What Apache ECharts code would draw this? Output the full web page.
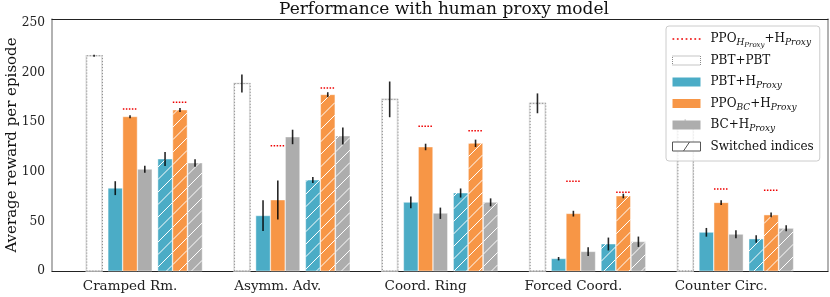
<!DOCTYPE html>
<html><head><meta charset="utf-8">
<script src="https://cdn.jsdelivr.net/npm/echarts@6/dist/echarts.min.js"></script>
<style>html,body{margin:0;padding:0;background:#fff}#c{width:830px;height:297px}</style>
</head><body><div id="c"></div>
<script>
const categories = ['Cramped Rm.', 'Asymm. Adv.', 'Coord. Ring', 'Forced Coord.', 'Counter Circ.'];
const yTicks = [0, 50, 100, 150, 200, 250];
const pbtPbt = [217, 189, 173, 169, 149];
const pbtPbtErr = [1, 9, 18, 10, 4];
const pbtH = [83.5, 55.7, 69.2, 12.4, 39];
const pbtHErr = [7, 15.5, 6, 1.7, 4.4];
const ppoBcH = [155.5, 71.6, 125, 57.8, 68.9];
const ppoBcHErr = [1.5, 19.7, 3.3, 2.9, 2.4];
const bcH = [102.5, 135.1, 58.2, 19.5, 37];
const bcHErr = [3.5, 7.3, 5.7, 4.5, 4];
const pbtHSw = [112.9, 91.7, 78.6, 27.2, 32.3];
const pbtHSwErr = [7, 3, 4.6, 6.5, 3.7];
const ppoBcHSw = [162.3, 177.7, 128.7, 75.6, 56.5];
const ppoBcHSwErr = [2, 2.5, 3.7, 2.3, 2.4];
const bcHSw = [108.9, 136.1, 69.2, 29.5, 43];
const bcHSwErr = [3.7, 8.5, 4, 5.2, 3];
const ppoHH = [163.3, 126.3, 145.9, 90.4, 82.7];
const ppoHHSw = [170, 184.5, 141.4, 79.3, 81.4];

const FONT = 'DejaVu Serif';
const TEAL = '#4BACC6', ORANGE = '#F79646', GRAY = '#ADADAD';
const BW = 0.097;

function barSeries(name, vals, errs, off, color, hatched) {
  return {
    type: 'custom', name: name, z: 2,
    data: vals.map((v, i) => [i, v, errs[i]]),
    encode: { x: 0, y: 1 },
    renderItem: function (params, api) {
      const i = api.value(0), v = api.value(1), e = api.value(2);
      const tl = api.coord([i + off - BW / 2, v]), br = api.coord([i + off + BW / 2, 0]);
      const x0 = tl[0], y0 = tl[1], x1 = br[0], y1 = br[1];
      const ch = [{ type: 'rect', shape: { x: x0, y: y0, width: x1 - x0, height: y1 - y0 },
        style: { fill: color, stroke: 'rgba(255,255,255,0.45)', lineWidth: 1 } }];
      if (hatched) {
        const s = 12.5;
        const kMin = Math.floor((x0 + y0) / s), kMax = Math.ceil((x1 + y1) / s);
        for (let k = kMin; k <= kMax; k++) {
          const c = k * s;
          const xa = Math.max(x0, c - y1), xb = Math.min(x1, c - y0);
          if (xb - xa > 0.5) {
            ch.push({ type: 'line', shape: { x1: xa, y1: c - xa, x2: xb, y2: c - xb },
              style: { stroke: '#ffffff', lineWidth: 1 } });
          }
        }
      }
      if (e > 0) {
        const a = api.coord([i + off, v + e]), b = api.coord([i + off, v - e]);
        ch.push({ type: 'line', shape: { x1: a[0], y1: a[1], x2: b[0], y2: b[1] },
          style: { stroke: 'rgba(0,0,0,0.85)', lineWidth: 1.6 } });
      }
      return { type: 'group', children: ch };
    }
  };
}

function pbtSeries(name, vals, errs, off) {
  const w = 0.106;
  return {
    type: 'custom', name: name, z: 2,
    data: vals.map((v, i) => [i, v, errs[i]]),
    encode: { x: 0, y: 1 },
    renderItem: function (params, api) {
      const i = api.value(0), v = api.value(1), e = api.value(2);
      const tl = api.coord([i + off - w / 2, v]), br = api.coord([i + off + w / 2, 0]);
      const x0 = tl[0], y0 = tl[1], x1 = br[0], y1 = br[1];
      const ch = [
        { type: 'rect', shape: { x: x0, y: y0, width: x1 - x0, height: y1 - y0 },
          style: { fill: '#fff', stroke: '#dcdcdc', lineWidth: 1.6 } },
        { type: 'rect', shape: { x: x0 + 0.5, y: y0, width: x1 - x0, height: y1 - y0 },
          style: { fill: 'none', stroke: '#8a8a8a', lineWidth: 1, lineDash: [1, 2] } }
      ];
      const a = api.coord([i + off, v + e]), b = api.coord([i + off, v - e]);
      ch.push({ type: 'line', shape: { x1: a[0], y1: a[1], x2: b[0], y2: b[1] },
        style: { stroke: 'rgba(0,0,0,0.85)', lineWidth: 1.6 } });
      return { type: 'group', children: ch };
    }
  };
}

function refSeries(name, vals, off) {
  return {
    type: 'custom', name: name, z: 3,
    data: vals.map((v, i) => [i, v]),
    encode: { x: 0, y: 1 },
    renderItem: function (params, api) {
      const i = api.value(0), v = api.value(1);
      const a = api.coord([i + off - BW / 2, v]), b = api.coord([i + off + BW / 2, v]);
      return { type: 'line', shape: { x1: a[0], y1: a[1], x2: b[0], y2: b[1] },
        style: { stroke: '#ee0000', lineWidth: 1.5, lineDash: [1.5, 1.5] } };
    }
  };
}

let dots = '';
for (let k = 0; k < 7; k++) dots += 'M' + (k * 4) + ',0h1.6v1.4h-1.6z ';

const labelMap = {
  ppoh: '{g| }{m|PPO}{s|H}{ss|Proxy}{m|+H}{s|Proxy}',
  pbt: '{g| }{m|PBT+PBT}',
  teal: '{g| }{m|PBT+H}{s|Proxy}',
  orange: '{g| }{m|PPO}{s|BC}{m|+H}{s|Proxy}',
  gray: '{g| }{m|BC+H}{s|Proxy}',
  sw: '{g| }{m|Switched indices}'
};

const XMIN = -0.528, XMAX = 4.723, YMAX = 254;

const option = {
  animation: false,
  backgroundColor: '#ffffff',
  title: {
    text: 'Performance with human proxy model', left: 279, top: 1, padding: 0,
    textStyle: { fontFamily: FONT, fontSize: 17, fontWeight: 'normal', color: '#111' }
  },
  grid: { left: 52, right: 2, top: 19, bottom: 26, containLabel: false, outerBoundsMode: 'none' },
  xAxis: [
    { type: 'value', min: XMIN, max: XMAX, splitLine: { show: false }, axisTick: { show: false },
      axisLine: { show: true, onZero: false, lineStyle: { color: '#222', width: 1.2 } },
      axisLabel: { customValues: [0, 1, 2, 3, 4], formatter: v => categories[Math.round(v)],
        fontFamily: FONT, fontSize: 13.5, color: '#222', margin: 8 } },
    { type: 'value', position: 'top', min: XMIN, max: XMAX, splitLine: { show: false },
      axisTick: { show: false }, axisLabel: { show: false },
      axisLine: { show: true, onZero: false, lineStyle: { color: '#222', width: 1.2 } } }
  ],
  yAxis: [
    { type: 'value', min: 0, max: YMAX, splitLine: { show: false }, axisTick: { show: false },
      axisLine: { show: true, onZero: false, lineStyle: { color: '#999', width: 1.5 } },
      axisLabel: { customValues: yTicks, fontFamily: FONT, fontSize: 12.2, color: '#222', margin: 7 },
      name: 'Average reward per episode', nameLocation: 'middle', nameGap: 32, nameRotate: 90,
      nameMoveOverlap: false,
      nameTextStyle: { fontFamily: FONT, fontSize: 15, color: '#111' } },
    { type: 'value', position: 'right', min: 0, max: YMAX, splitLine: { show: false },
      axisTick: { show: false }, axisLabel: { show: false },
      axisLine: { show: true, onZero: false, lineStyle: { color: '#999', width: 1.5 } } }
  ],
  legend: {
    orient: 'vertical', left: 666, top: 26, padding: [2.5, 6, 4, 6], itemGap: 0.5,
    itemWidth: 28, itemHeight: 9, selectedMode: false,
    backgroundColor: 'rgba(255,255,255,0.8)', borderColor: '#cccccc', borderWidth: 1, borderRadius: 3,
    formatter: n => labelMap[n],
    textStyle: {
      fontFamily: FONT, fontSize: 12, lineHeight: 21,
      rich: {
        g: { width: 5, height: 21, lineHeight: 21, fontSize: 12 },
        m: { fontFamily: FONT, fontSize: 12, color: '#111', lineHeight: 21, verticalAlign: 'middle' },
        s: { fontFamily: FONT, fontSize: 9, fontStyle: 'italic', color: '#111', lineHeight: 13, padding: [8, 0, 0, 0], verticalAlign: 'middle' },
        ss: { fontFamily: FONT, fontSize: 7, fontStyle: 'italic', color: '#111', lineHeight: 8, padding: [13, 0, 0, 0], verticalAlign: 'middle' }
      }
    },
    data: [
      { name: 'ppoh', icon: 'path://' + dots, itemStyle: { color: '#ee0000' } },
      { name: 'pbt', icon: 'rect', itemStyle: { color: '#ffffff', borderColor: '#8a8a8a', borderWidth: 1, borderType: 'dotted' } },
      { name: 'teal', icon: 'rect', itemStyle: { color: TEAL } },
      { name: 'orange', icon: 'rect', itemStyle: { color: ORANGE } },
      { name: 'gray', icon: 'rect', itemStyle: { color: GRAY } },
      { name: 'sw', icon: 'path://M0,0H28V9H0Z M11,9L17,0', itemStyle: { color: '#ffffff', borderColor: '#555', borderWidth: 1 } }
    ]
  },
  series: [
    pbtSeries('pbt', pbtPbt, pbtPbtErr, -0.243),
    barSeries('teal', pbtH, pbtHErr, -0.1, TEAL, false),
    barSeries('orange', ppoBcH, ppoBcHErr, 0, ORANGE, false),
    barSeries('gray', bcH, bcHErr, 0.1, GRAY, false),
    barSeries('teal', pbtHSw, pbtHSwErr, 0.237, TEAL, true),
    barSeries('orange', ppoBcHSw, ppoBcHSwErr, 0.338, ORANGE, true),
    barSeries('gray', bcHSw, bcHSwErr, 0.44, GRAY, true),
    refSeries('ppoh', ppoHH, 0),
    refSeries('ppoh', ppoHHSw, 0.338),
    { type: 'custom', name: 'sw', data: [], renderItem: () => null }
  ]
};

echarts.init(document.getElementById('c')).setOption(option);
</script>
</body></html>
